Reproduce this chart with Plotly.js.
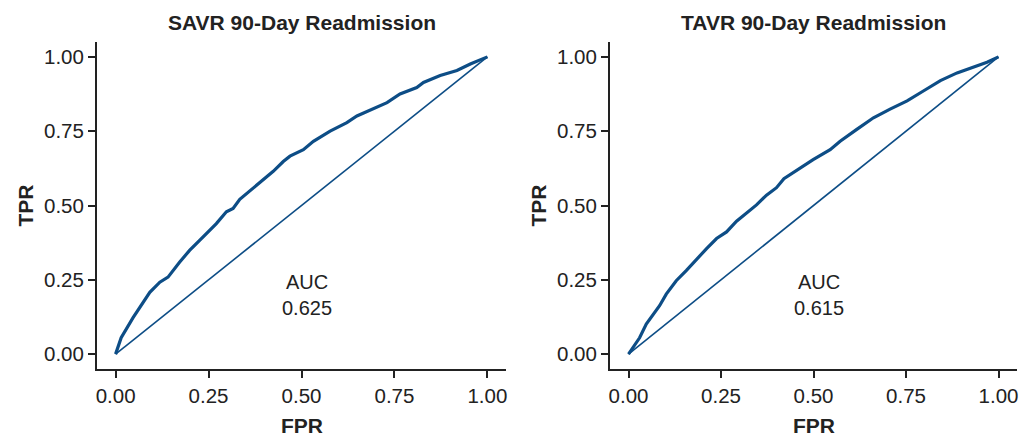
<!DOCTYPE html>
<html>
<head>
<meta charset="utf-8">
<script src="https://cdn.plot.ly/plotly-3.0.1.min.js"></script>
<style>html,body{margin:0;padding:0;background:#fff}#chart{width:1026px;height:440px}</style>
</head>
<body>
<div id="chart"></div>
<script>
// SAVR ROC curve
const savrFPR = [0, 0.015, 0.047, 0.065, 0.092, 0.119, 0.141, 0.172, 0.199, 0.226, 0.253, 0.271, 0.298, 0.316, 0.334, 0.361, 0.397, 0.424, 0.451, 0.469, 0.505, 0.532, 0.577, 0.622, 0.649, 0.685, 0.730, 0.765, 0.810, 0.828, 0.873, 0.918, 0.954, 1.0];
const savrTPR = [0, 0.055, 0.123, 0.157, 0.208, 0.242, 0.259, 0.309, 0.349, 0.383, 0.417, 0.439, 0.479, 0.490, 0.521, 0.550, 0.586, 0.615, 0.648, 0.666, 0.688, 0.716, 0.750, 0.779, 0.801, 0.820, 0.846, 0.875, 0.897, 0.914, 0.937, 0.954, 0.976, 1.0];
// TAVR ROC curve
const tavrFPR = [0, 0.030, 0.048, 0.066, 0.084, 0.102, 0.129, 0.156, 0.188, 0.211, 0.238, 0.265, 0.292, 0.319, 0.346, 0.373, 0.400, 0.420, 0.463, 0.499, 0.545, 0.572, 0.617, 0.662, 0.707, 0.753, 0.798, 0.843, 0.888, 0.933, 0.969, 1.0];
const tavrTPR = [0, 0.055, 0.101, 0.134, 0.163, 0.202, 0.247, 0.281, 0.326, 0.355, 0.389, 0.411, 0.447, 0.474, 0.502, 0.535, 0.560, 0.590, 0.626, 0.654, 0.688, 0.716, 0.756, 0.795, 0.824, 0.852, 0.886, 0.920, 0.946, 0.965, 0.982, 1.0];
const diagonal = [0, 1];
const tickVals = [0, 0.25, 0.5, 0.75, 1];
const tickText = ["0.00", "0.25", "0.50", "0.75", "1.00"];
const panelTitles = ["SAVR 90-Day Readmission", "TAVR 90-Day Readmission"];
const aucValues = ["0.625", "0.615"];

const col = '#0d4d86';
const font = 'Liberation Sans, Arial, Helvetica, sans-serif';
const ink = '#222222';

const traces = [
  {x: savrFPR, y: savrTPR, xaxis: 'x', yaxis: 'y', mode: 'lines', line: {color: col, width: 3.2}},
  {x: diagonal, y: diagonal, xaxis: 'x', yaxis: 'y', mode: 'lines', line: {color: col, width: 1.6}},
  {x: tavrFPR, y: tavrTPR, xaxis: 'x2', yaxis: 'y2', mode: 'lines', line: {color: col, width: 3.2}},
  {x: diagonal, y: diagonal, xaxis: 'x2', yaxis: 'y2', mode: 'lines', line: {color: col, width: 1.6}}
];

const W = 1026, H = 440;
const yDom = [(H - 369) / H, (H - 42) / H];
function ax(dom, anchor) {
  return {
    domain: dom, anchor: anchor, range: [-0.05, 1.05],
    tickvals: tickVals, ticktext: tickText,
    ticks: 'outside', ticklen: 7, tickwidth: 2, tickcolor: ink,
    showline: true, linewidth: 2, linecolor: ink, mirror: false,
    showgrid: false, zeroline: false,
    tickfont: {family: font, size: 20.5, color: ink},
    fixedrange: true
  };
}
const layout = {
  width: W, height: H,
  margin: {l: 0, r: 0, t: 0, b: 0},
  paper_bgcolor: '#fff', plot_bgcolor: '#fff',
  showlegend: false,
  xaxis: ax([97 / W, 506 / W], 'y'),
  yaxis: ax(yDom, 'x'),
  xaxis2: ax([610 / W, 1017 / W], 'y2'),
  yaxis2: ax(yDom, 'x2'),
  annotations: []
};
const centers = [(97 + 506) / 2 / W, (610 + 1017) / 2 / W];
const yLeft = [25 / W, 538 / W];
const axisRefs = [['x', 'y'], ['x2', 'y2']];
for (let i = 0; i < 2; i++) {
  layout.annotations.push({text: '<b>' + panelTitles[i] + '</b>', x: centers[i], y: 1 - 22 / H, xref: 'paper', yref: 'paper', showarrow: false, xanchor: 'center', yanchor: 'middle', font: {family: font, size: 21, color: ink}});
  layout.annotations.push({text: '<b>FPR</b>', x: centers[i], y: 1 - 425 / H, xref: 'paper', yref: 'paper', showarrow: false, xanchor: 'center', yanchor: 'middle', font: {family: font, size: 21, color: ink}});
  layout.annotations.push({text: '<b>TPR</b>', x: yLeft[i], y: 1 - 205.5 / H, xref: 'paper', yref: 'paper', showarrow: false, textangle: -90, xanchor: 'center', yanchor: 'middle', font: {family: font, size: 21, color: ink}});
  layout.annotations.push({text: 'AUC<br>' + aucValues[i], x: 0.515, y: 0.2, xref: axisRefs[i][0], yref: axisRefs[i][1], showarrow: false, xanchor: 'center', yanchor: 'middle', align: 'center', font: {family: font, size: 20, color: ink}});
}
Plotly.newPlot('chart', traces, layout, {staticPlot: true, displayModeBar: false});
</script>
</body>
</html>
